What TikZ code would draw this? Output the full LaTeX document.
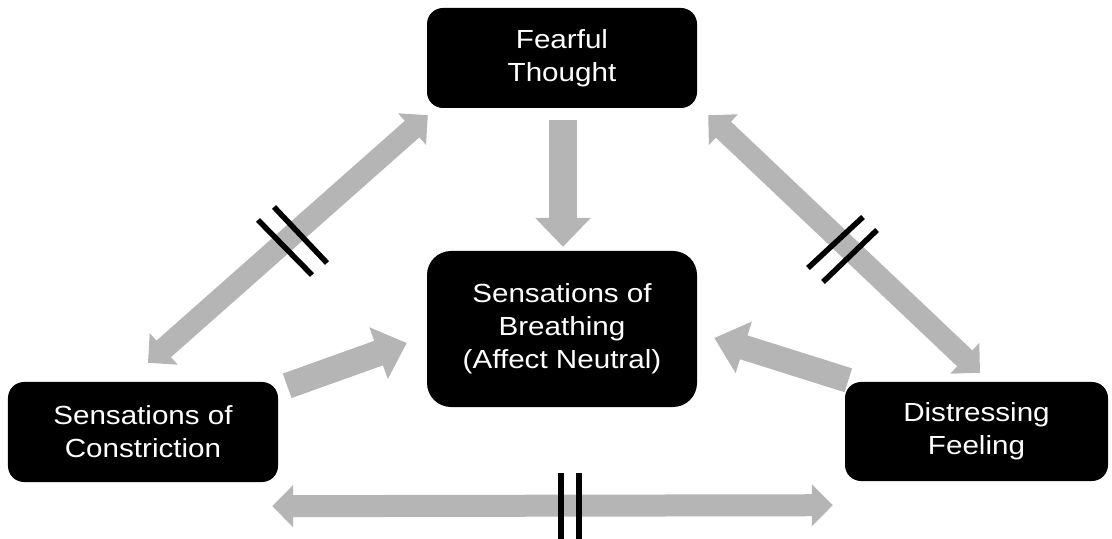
\documentclass[tikz,border=0pt]{standalone}
\usepackage{fontspec}
\setmainfont{Liberation Sans}[FakeStretch=1.13]
\usetikzlibrary{arrows.meta,calc}

\definecolor{arrowgray}{RGB}{181,181,181}

\tikzset{
  box/.style={fill=black, text=white, align=center, inner sep=0pt,
    font=\fontsize{26.3}{33}\selectfont, rounded corners=16bp},
  longarrow/.style={draw=arrowgray, line width=22bp,
    {Triangle[width=41bp,length=21bp]}-{Triangle[width=41bp,length=21bp]}},
  shortarrow/.style={draw=arrowgray, line width=26bp,
    -{Triangle[width=53bp,length=30bp]}},
  breakmark/.style={draw=black, line width=5.5bp}
}

\begin{document}
\begin{tikzpicture}[x=1bp, y={(0bp,-1bp)}]
  \useasboundingbox (0,0) rectangle (1112,539);

  % the four statements
  \node[box, minimum width=270bp, minimum height=100bp] (thought) at (562,58) {Fearful\\Thought};
  \node[box, minimum width=270bp, minimum height=156bp, rounded corners=24bp] (breath) at (562,329) {Sensations of\\Breathing\\(Affect Neutral)};
  \node[box, minimum width=270bp, minimum height=100bp] (constr) at (143,432) {Sensations of\\Constriction};
  \node[box, minimum width=263bp, minimum height=99bp] (distress) at (976.5,431.5) {Distressing\\Feeling};

  % one-way arrows into the centre
  \draw[shortarrow, line width=28bp, -{Triangle[width=54bp,length=29bp]}]
    ($(thought.south)+(1,12)$) -- ($(breath.north)+(1,-4)$);
  \draw[shortarrow] ($(constr.north east)+(9,4)$) -- ($(breath.west)+(-20,14)$);
  \draw[shortarrow, line width=25bp, -{Triangle[width=52bp,length=31bp]}]
    ($(distress.north west)+(3.5,-1.5)$) -- ($(breath.east)+(17,9)$);

  % two-way links around the triangle
  \draw[longarrow] ($(thought.south west)+(1,7)$) -- ($(constr.north)+(5,-19)$);
  \draw[longarrow] ($(thought.south east)+(11,7)$) -- ($(distress.north)+(3.5,-9)$);
  \draw[longarrow] ($(constr.south east)+(-6,24)$) -- ($(distress.south west)+(-12,24)$);

  % break marks on the two-way links
  \draw[breakmark] (258,220) -- (312,275);
  \draw[breakmark] (274,207) -- (327,263);
  \draw[breakmark] (808,268) -- (863,217);
  \draw[breakmark] (823,282) -- (877,230);
  \draw[breakmark] (561,473) -- (561,539);
  \draw[breakmark] (579,473) -- (579,539);
\end{tikzpicture}
\end{document}
